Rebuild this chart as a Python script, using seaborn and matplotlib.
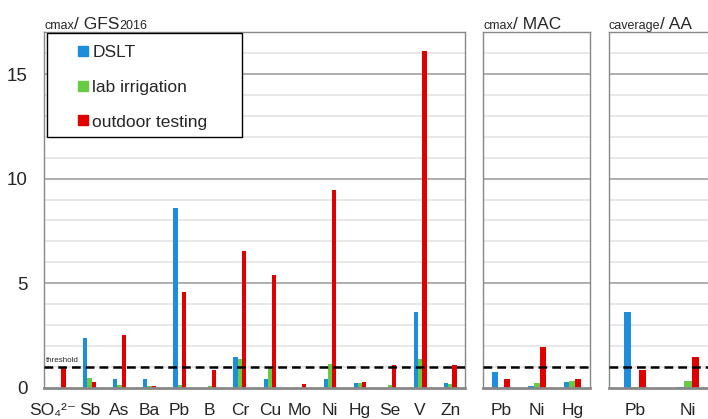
import numpy as np
import pandas as pd
import matplotlib
matplotlib.use("Agg")
import matplotlib.pyplot as plt
import matplotlib.transforms as mtransforms
import seaborn as sns
from matplotlib.patches import Rectangle

# --- data ---
series = ["DSLT", "lab irrigation", "outdoor testing"]
colors = ["#1e8ddb", "#66cc44", "#e00000"]

gfs_elements = ["SO₄²⁻", "Sb", "As", "Ba", "Pb", "B", "Cr", "Cu",
                "Mo", "Ni", "Hg", "Se", "V", "Zn"]
gfs_dslt = [0.0, 2.36, 0.40, 0.40, 8.58, 0.0, 1.48, 0.40, 0.0, 0.40, 0.24, 0.0, 3.61, 0.24]
gfs_lab = [0.0, 0.48, 0.11, 0.08, 0.13, 0.08, 1.37, 0.95, 0.0, 1.15, 0.24, 0.13, 1.38, 0.18]
gfs_out = [0.95, 0.29, 2.50, 0.06, 4.57, 0.83, 6.52, 5.39, 0.18, 9.47, 0.27, 1.07, 16.1, 1.07]

mac_elements = ["Pb", "Ni", "Hg"]
mac_dslt = [0.73, 0.08, 0.27]
mac_lab = [0.0, 0.22, 0.32]
mac_out = [0.40, 1.96, 0.41]

aa_elements = ["Pb", "Ni"]
aa_dslt = [3.61, 0.05]
aa_lab = [0.05, 0.32]
aa_out = [0.83, 1.48]

threshold = 1.0


def long_frame(elements, dslt, lab, out):
    rows = []
    for vals, name in zip([dslt, lab, out], series):
        for el, v in zip(elements, vals):
            rows.append({"element": el, "series": name, "value": v})
    return pd.DataFrame(rows)


sns.set_style("white")
plt.rcParams["font.family"] = ["Liberation Sans", "DejaVu Sans"]

W, H = 708, 419
fig = plt.figure(figsize=(W / 100, H / 100), dpi=100)


def add_axes(x0, x1, y0=32.3, y1=387.7):
    return fig.add_axes([x0 / W, 1 - y1 / H, (x1 - x0) / W, (y1 - y0) / H])


ax1 = add_axes(44.3, 465.3)
ax2 = add_axes(483.3, 590.3)
ax3 = add_axes(608.7, 714.7)

panels = [
    (ax1, gfs_elements, gfs_dslt, gfs_lab, gfs_out, 0.42),
    (ax2, mac_elements, mac_dslt, mac_lab, mac_out, 0.5),
    (ax3, aa_elements, aa_dslt, aa_lab, aa_out, 0.42),
]

for ax, els, d, l, o, w in panels:
    df = long_frame(els, d, l, o)
    sns.barplot(data=df, x="element", y="value", hue="series", palette=colors,
                width=w, ax=ax, legend=False, saturation=1, linewidth=0)
    n = len(els)
    ax.set_xlim(-0.5, n - 0.5)
    ax.set_ylim(0, 17)
    ax.set_xlabel("")
    ax.set_ylabel("")
    # ticks sit on the category boundaries, labels in the middle
    ax.set_xticks(np.arange(-0.5, n + 0.5, 1.0))
    ax.set_xticklabels([])
    ax.set_xticks(np.arange(n), minor=True)
    ax.set_xticklabels(els, minor=True, fontsize=12.5)
    ax.tick_params(axis="x", which="major", length=5, width=1, color="#888888", direction="out")
    ax.tick_params(axis="x", which="minor", length=0, pad=11)
    # gridlines: light every 1, darker every 5
    for yv in range(1, 17):
        col = "#999999" if yv % 5 == 0 else "#e2e2e2"
        ax.axhline(yv, color=col, lw=1.1, zorder=0)
    ax.axhline(threshold, color="black", lw=1.8, ls=(0, (3.5, 2)), zorder=5)
    for side in ["left", "right", "top"]:
        ax.spines[side].set_color("#888888")
        ax.spines[side].set_linewidth(1.0)
    ax.spines["bottom"].set_color("#888888")
    ax.spines["bottom"].set_linewidth(2.0)
    ax.set_yticks([0, 5, 10, 15])
    if ax is ax1:
        ax.tick_params(axis="y", length=5, color="#888888", labelsize=13.5, pad=7)
    else:
        ax.tick_params(axis="y", length=0, labelleft=False)

# the sulphate label sits a little left of its slot in the reference
so4 = ax1.get_xticklabels(minor=True)[0]
so4.set_transform(so4.get_transform() + mtransforms.ScaledTranslation(-7 / 100, 0, fig.dpi_scale_trans))

ax1.text(0.003, threshold + 0.15, "threshold", fontsize=5.8, transform=ax1.get_yaxis_transform(),
         va="bottom", ha="left")

# legend: entries without frame, box drawn separately (box is wider than the text)
handles = [plt.Line2D([], [], marker="s", ls="", color=c, markersize=7.4) for c in colors]
leg = ax1.legend(handles, series, loc="upper left",
                 bbox_to_anchor=(77.8 / W, 1 - 45.2 / H), bbox_transform=fig.transFigure,
                 fontsize=12.5, frameon=False, labelspacing=1.12, handletextpad=0.24,
                 borderpad=0, handlelength=0.6, borderaxespad=0)
leg.set_zorder(10)
box = Rectangle((47.3 / W, 1 - 137.3 / H), (241.7 - 47.3) / W, (137.3 - 32.7) / H,
                transform=fig.transFigure, facecolor="white", edgecolor="black", lw=1.0,
                zorder=9)
ax1.add_artist(box)
box.set_clip_on(False)


def title(ax, parts):
    # parts: list of (text, size) placed one after another on a common baseline
    t = ax.text(0.0, 1.008, parts[0][0], fontsize=parts[0][1], transform=ax.transAxes,
                ha="left", va="baseline")
    for txt, size in parts[1:]:
        t = ax.annotate(txt, xy=(1, 0), xycoords=t, fontsize=size, ha="left", va="bottom",
                        annotation_clip=False)


title(ax1, [("cmax", 9), ("/ GFS", 12.5), ("2016", 9)])
title(ax2, [("cmax", 9), ("/ MAC", 12.5)])
title(ax3, [("caverage", 9), ("/ AA", 12.5)])

fig.savefig("out.png", dpi=100)
